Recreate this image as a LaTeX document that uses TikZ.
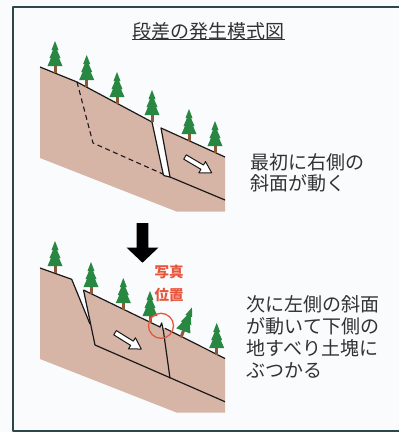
\documentclass[tikz,border=0pt]{standalone}
\usepackage{fontspec}
\newfontfamily\jp{Noto Sans CJK JP}
\definecolor{paper}{RGB}{250,251,253}
\definecolor{framecol}{RGB}{45,70,75}
\definecolor{soil}{RGB}{214,180,166}
\definecolor{linecol}{RGB}{25,25,25}
\definecolor{leaf}{RGB}{40,135,65}
\definecolor{trunkcol}{RGB}{140,88,58}
\definecolor{inkgray}{RGB}{50,50,50}
\definecolor{photored}{RGB}{232,85,60}
\begin{document}
\begin{tikzpicture}[x=1pt,y=-1pt,line join=round,
  edge/.style={draw=linecol,line width=1.2pt},
  label/.style={font=\jp\fontsize{19}{21}\selectfont,text=inkgray,inner sep=0pt,anchor=west},
  redlabel/.style={font=\jp\bfseries\fontsize{14.5}{16}\selectfont,text=photored,inner sep=0pt},
  tree/.pic={
    \fill[trunkcol] (-1.5,0) rectangle (1.5,-9);
    \fill[leaf] (0,-32) -- (-3.5,-23) -- (-2,-23) -- (-5.5,-15) -- (-4,-15)
      -- (-7.5,-7) -- (7.5,-7) -- (4,-15) -- (5.5,-15) -- (2,-23) -- (3.5,-23) -- cycle;
  },
  slidearrow/.pic={
    \draw[draw=linecol,line width=1pt,fill=white] (0,-2.5) -- (20,-2.5) -- (20,-6.5)
      -- (31,0) -- (20,6.5) -- (20,2.5) -- (0,2.5) -- cycle;
  }]
\useasboundingbox (0,0) rectangle (399,432);
\fill[paper] (0,0) rectangle (399,432);
\draw[framecol,line width=1.5pt] (401,7) -- (13,7) -- (13,431) -- (401,431);

% title
\node[label,anchor=center] (title) at (208.5,31) {段差の発生模式図};
\draw[inkgray,line width=1pt] (132,39.5) -- (285,39.5);

% ---------- upper section: the lower slope moves first ----------
\fill[soil] (40,67) -- (77,82) -- (152,122) -- (161,128) -- (225,157)
  -- (225,211.7) -- (177,211.7) -- (40,158) -- cycle;
% open crack
\fill[white] (152,122) -- (161,128) -- (170,177) -- (163.5,175.5) -- cycle;
\draw[edge] (40,67) -- (77,82) -- (152,122) -- (163.5,175.5);
\draw[edge] (225,157) -- (161,128) -- (170,177) -- (225,200);
\draw[edge] (163.5,175.5) -- (170,177);
% future slip surface
\draw[linecol,line width=1.1pt,dash pattern=on 5pt off 3.5pt] (77,82) -- (93,143) -- (164,174.5);
\pic[rotate=-30.6] at (185,157) {slidearrow};

\pic at (55,73) {tree};
\pic at (86.7,87) {tree};
\pic at (117,104) {tree};
\pic at (152,122) {tree};
\pic at (189,141) {tree};
\pic at (215,153) {tree};

\node[label] (upA) at (250,162) {最初に右側の};
\node[label] (upB) at (250,183) {斜面が動く};

% down arrow between the two stages
\fill[black] (136.7,223) -- (148.3,223) -- (148.3,247.7) -- (158.3,247.7)
  -- (142.5,262.7) -- (126.7,247.7) -- (136.7,247.7) -- cycle;

% ---------- lower section: the upper slope follows ----------
\fill[soil] (40,268) -- (71.7,279.3) -- (90,324) -- (83.5,290) -- (160,327)
  -- (165,328.3) -- (225,358.5) -- (225,412.7) -- (177,412.7) -- (40,359) -- cycle;
\draw[edge] (40,268) -- (71.7,279.3) -- (90,324);
\draw[edge] (83.5,290) -- (95,345) -- (225,401.7);
\draw[edge] (83.5,290) -- (160,327) -- (161.7,323) -- (163.5,331.5) -- (170,378.3);
\draw[edge] (165,328.3) -- (225,358.5);
\pic[rotate=-31.9] at (115,332.7) {slidearrow};

\pic at (55,273) {tree};
\pic at (91,294) {tree};
\pic at (123.3,310) {tree};
\pic at (150,323) {tree};
\pic[rotate=-20] at (181,337.5) {tree};
\pic at (216.7,355) {tree};

% photo location
\draw[photored,line width=1.3pt] (161,325.8) circle[radius=12.5];
\node[redlabel] (photoA) at (169,271.5) {写真};
\node[redlabel] (photoB) at (169,295.5) {位置};

\node[label] (lowA) at (246.7,304.3) {次に左側の斜面};
\node[label] (lowB) at (246.7,326) {が動いて下側の};
\node[label] (lowC) at (246.7,348) {地すべり土塊に};
\node[label] (lowD) at (246.7,370.5) {ぶつかる};
\end{tikzpicture}
\end{document}
